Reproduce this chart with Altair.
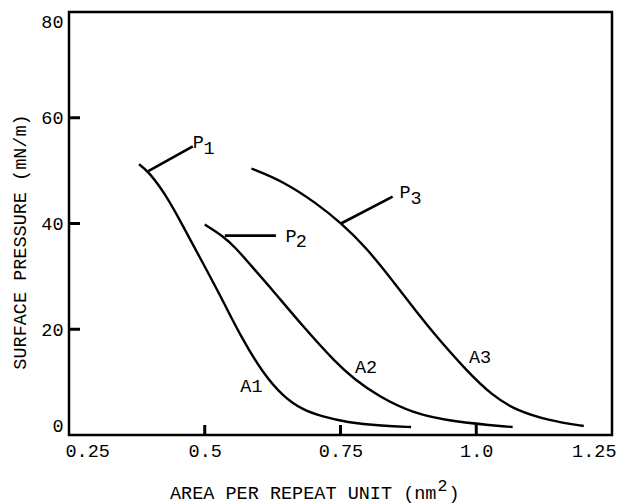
import altair as alt
import pandas as pd

FONT = "Liberation Mono"

# axis ticks
x_ticks = [0.25, 0.5, 0.75, 1.0, 1.25]
y_ticks = [0, 20, 40, 60, 80]
x_tick_marks = [0.5, 0.75, 1.0]
y_tick_marks = [20, 40, 60]

# isotherm curves
c1_x = [0.379, 0.396, 0.430, 0.460, 0.494, 0.531, 0.567, 0.607, 0.644, 0.681, 0.717, 0.760, 0.828, 0.880]
c1_y = [51.2, 49.9, 45.2, 39.5, 33.0, 25.9, 18.5, 11.7, 7.3, 4.7, 3.5, 2.4, 1.7, 1.5]
c2_x = [0.500, 0.534, 0.558, 0.583, 0.620, 0.681, 0.742, 0.775, 0.820, 0.883, 0.957, 1.067]
c2_y = [39.8, 37.6, 35.3, 32.3, 28.0, 20.5, 13.6, 10.6, 7.3, 4.1, 2.5, 1.5]
c3_x = [0.586, 0.644, 0.705, 0.751, 0.797, 0.846, 0.895, 0.930, 0.981, 1.030, 1.073, 1.135, 1.198]
c3_y = [50.4, 48.0, 43.9, 40.1, 35.5, 29.2, 22.6, 18.2, 12.3, 7.4, 4.7, 2.7, 1.7]

# leader lines for P labels
lead_id = ["P1", "P1", "P2", "P2", "P3", "P3"]
lead_x = [0.396, 0.478, 0.537, 0.631, 0.751, 0.846]
lead_y = [49.9, 54.6, 37.7, 37.7, 40.0, 45.1]

# P labels (letter + subscript)
p_text = ["P", "P", "P"]
p_x = [0.488, 0.659, 0.869]
p_y = [55.4, 37.6, 45.9]
sub_text = ["1", "2", "3"]
sub_x = [0.508, 0.678, 0.889]
sub_y = [54.3, 36.6, 44.9]

# A labels
a_text = ["A1", "A2", "A3"]
a_x = [0.586, 0.797, 1.007]
a_y = [9.3, 12.8, 14.7]

x_title = "AREA PER REPEAT UNIT (nm"
x_title_sup = "2"
x_title_end = ")"
y_title = "SURFACE PRESSURE (mN/m)"

W, H = 543, 423
FS = 18.5
ADV = 0.6 * FS

curves = pd.DataFrame({
    "x": c1_x + c2_x + c3_x,
    "y": c1_y + c2_y + c3_y,
    "s": ["1"] * len(c1_x) + ["2"] * len(c2_x) + ["3"] * len(c3_x),
})
leads = pd.DataFrame({"x": lead_x, "y": lead_y, "s": lead_id})
plabels = pd.DataFrame({"x": p_x, "y": p_y, "t": p_text})
sublabels = pd.DataFrame({"x": sub_x, "y": sub_y, "t": sub_text})
alabels = pd.DataFrame({"x": a_x, "y": a_y, "t": a_text})

xs = alt.Scale(domain=[0.25, 1.25], nice=False, zero=False)
ys = alt.Scale(domain=[0, 80], nice=False, zero=True)

x_axis = alt.Axis(
    values=x_ticks, title=None, grid=False, ticks=False, domain=False,
    labelExpr="datum.value == 1 ? '1.0' : format(datum.value, '.2~f')",
    labelFont=FONT, labelFontSize=FS, labelColor="black",
    labelPadding=6, labelFlush=True, labelFlushOffset=4,
)
y_axis = alt.Axis(
    values=y_ticks, title=None, grid=False, ticks=False, domain=False,
    labelFont=FONT, labelFontSize=FS, labelColor="black",
    labelPadding=6, labelFlush=True,
)

lines = alt.Chart(curves).mark_line(
    color="black", strokeWidth=2.4, interpolate="basis"
).encode(
    x=alt.X("x:Q", scale=xs, axis=x_axis),
    y=alt.Y("y:Q", scale=ys, axis=y_axis),
    detail="s:N",
    order="x:Q",
)

lead_lines = alt.Chart(leads).mark_line(color="black", strokeWidth=2.6).encode(
    x=alt.X("x:Q", scale=xs), y=alt.Y("y:Q", scale=ys), detail="s:N"
)

ptxt = alt.Chart(plabels).mark_text(font=FONT, fontSize=FS, color="black",
                                     align="center", baseline="middle").encode(
    x=alt.X("x:Q", scale=xs), y=alt.Y("y:Q", scale=ys), text="t:N")
stxt = alt.Chart(sublabels).mark_text(font=FONT, fontSize=FS, color="black",
                                       align="center", baseline="middle").encode(
    x=alt.X("x:Q", scale=xs), y=alt.Y("y:Q", scale=ys), text="t:N")
atxt = alt.Chart(alabels).mark_text(font=FONT, fontSize=FS, color="black",
                                     align="center", baseline="middle").encode(
    x=alt.X("x:Q", scale=xs), y=alt.Y("y:Q", scale=ys), text="t:N")

xtk = alt.Chart(pd.DataFrame({"v": x_tick_marks})).mark_rule(
    color="black", strokeWidth=3).encode(
    x=alt.X("v:Q", scale=xs), y=alt.value(H), y2=alt.value(H - 10))
ytk = alt.Chart(pd.DataFrame({"v": y_tick_marks})).mark_rule(
    color="black", strokeWidth=3).encode(
    y=alt.Y("v:Q", scale=ys), x=alt.value(0), x2=alt.value(11))

XT0 = 101
xt = alt.Chart(pd.DataFrame({"t": [x_title]})).mark_text(
    font=FONT, fontSize=FS, color="black", align="left", baseline="middle").encode(
    text="t:N", x=alt.value(XT0), y=alt.value(481))
xt2 = alt.Chart(pd.DataFrame({"t": [x_title_sup]})).mark_text(
    font=FONT, fontSize=FS - 2, color="black", align="left", baseline="middle").encode(
    text="t:N", x=alt.value(XT0 + 24 * ADV + 1), y=alt.value(474))
xt3 = alt.Chart(pd.DataFrame({"t": [x_title_end]})).mark_text(
    font=FONT, fontSize=FS, color="black", align="left", baseline="middle").encode(
    text="t:N", x=alt.value(XT0 + 25 * ADV + 1), y=alt.value(481))
yt = alt.Chart(pd.DataFrame({"t": [y_title]})).mark_text(
    font=FONT, fontSize=FS, color="black", align="center", baseline="middle",
    angle=270).encode(
    text="t:N", x=alt.value(-49), y=alt.value(230))

chart = alt.layer(lines, lead_lines, ptxt, stxt, atxt, xtk, ytk, xt, xt2, xt3, yt).properties(
    width=W, height=H,
    padding={"left": 69, "top": 12, "right": 16, "bottom": 69},
    autosize="none",
    background="white",
).configure_view(stroke="black", strokeWidth=2.5)

chart.save("out.html", embed_options={"renderer": "svg", "actions": False})
